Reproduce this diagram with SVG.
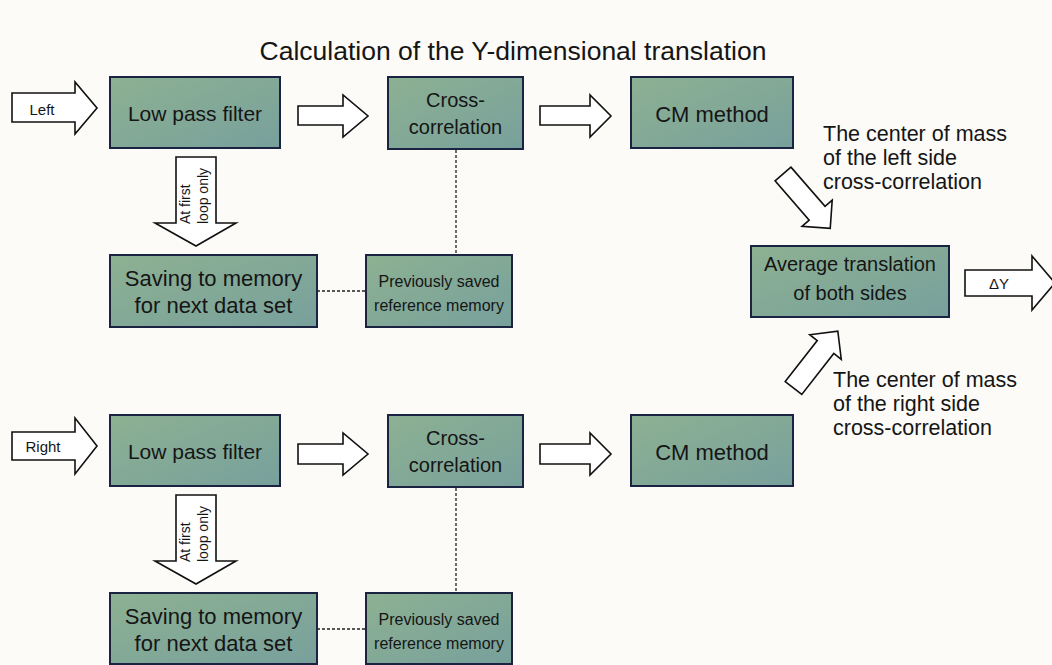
<svg xmlns="http://www.w3.org/2000/svg" width="1052" height="665" viewBox="0 0 1052 665">
<defs>
<linearGradient id="g" x1="0" y1="0" x2="1" y2="1">
<stop offset="0" stop-color="#8db192"/>
<stop offset="1" stop-color="#78a09c"/>
</linearGradient>
<style>
.box{fill:url(#g);stroke:#1b2342;stroke-width:2}
.t{font-family:"Liberation Sans",Arial,sans-serif;fill:#151515;text-anchor:middle}
.l{font-family:"Liberation Sans",Arial,sans-serif;fill:#151515;text-anchor:start}
.arr{fill:#fff;stroke:#111;stroke-width:1.6;stroke-linejoin:miter}
.dot{stroke:#222;stroke-width:1.3;stroke-dasharray:3 2;fill:none}
</style>
</defs>
<rect width="1052" height="665" fill="#fcfbf7"/>
<text class="t" x="513" y="60" font-size="26.5">Calculation of the Y-dimensional translation</text>

<g id="connectors">
<path class="arr" d="M12,93 H75 V82 L97,108 L75,134 V122 H12 Z"/>
<path class="arr" d="M298,106 H343 V95 L368,116 L343,137 V125 H298 Z"/>
<path class="arr" d="M540,106 H590 V95 L611,116 L590,137 V125 H540 Z"/>
<path class="arr" d="M176,157 H216 V223 H236 L196,246 L155,223 H176 Z"/>
<path class="arr" d="M12,432 H75 V418 L97,446 L75,474 V460 H12 Z"/>
<path class="arr" d="M298,444 H343 V433 L368,454 L343,475 V464 H298 Z"/>
<path class="arr" d="M540,444 H590 V433 L611,454 L590,475 V464 H540 Z"/>
<path class="arr" d="M176,495 H216 V561 H236 L196,584 L155,561 H176 Z"/>
<path class="arr" transform="translate(783,174) rotate(49)" d="M0,-10.5 H52 V-20 L72,0 L52,20 V10.5 H0 Z"/>
<path class="arr" transform="translate(793.5,388) rotate(-52)" d="M0,-10.5 H52 V-20 L72,0 L52,20 V10.5 H0 Z"/>
<path class="arr" d="M965,270 H1032 V256 L1055,283 L1032,310 V296 H965 Z"/>
<path class="dot" d="M456,150 V255 M317,291 H366"/>
<path class="dot" d="M456,488 V593 M317,629 H366"/>
<text class="t" x="42" y="115" font-size="15">Left</text>
<text class="t" x="43" y="452" font-size="15">Right</text>
<text class="t" x="999" y="289" font-size="15">ΔY</text>
<g transform="translate(195,224) rotate(-90)"><text class="l" x="0" y="-5" font-size="14">At first</text><text class="l" x="0" y="13" font-size="14">loop only</text></g>
<g transform="translate(195,562) rotate(-90)"><text class="l" x="0" y="-5" font-size="14">At first</text><text class="l" x="0" y="13" font-size="14">loop only</text></g>
<g id="label-left-cm"><text class="l" x="823" y="141" font-size="21.5">The center of mass</text><text class="l" x="823" y="165" font-size="21.5">of the left side</text><text class="l" x="823" y="189" font-size="21.5">cross-correlation</text></g>
<g id="label-right-cm"><text class="l" x="833" y="387" font-size="21.5">The center of mass</text><text class="l" x="833" y="411" font-size="21.5">of the right side</text><text class="l" x="833" y="435" font-size="21.5">cross-correlation</text></g>
</g>

<g id="lpf-left"><rect class="box" x="110" y="77" width="170" height="71"/><text class="t" x="195" y="121" font-size="21">Low pass filter</text></g>
<g id="cc-left"><rect class="box" x="388" y="77" width="135" height="72"/><text class="t" x="455.5" y="107" font-size="20">Cross-</text><text class="t" x="455.5" y="134" font-size="20">correlation</text></g>
<g id="cm-left"><rect class="box" x="631" y="77" width="162" height="71"/><text class="t" x="712" y="122" font-size="22">CM method</text></g>
<g id="save-left"><rect class="box" x="110" y="255" width="207" height="72"/><text class="t" x="213.5" y="286" font-size="22">Saving to memory</text><text class="t" x="213.5" y="313" font-size="22">for next data set</text></g>
<g id="prev-left"><rect class="box" x="366" y="255" width="146" height="72"/><text class="t" x="439" y="287" font-size="16">Previously saved</text><text class="t" x="439" y="311" font-size="16">reference memory</text></g>

<g id="lpf-right"><rect class="box" x="110" y="415" width="170" height="71"/><text class="t" x="195" y="459" font-size="21">Low pass filter</text></g>
<g id="cc-right"><rect class="box" x="388" y="415" width="135" height="72"/><text class="t" x="455.5" y="445" font-size="20">Cross-</text><text class="t" x="455.5" y="472" font-size="20">correlation</text></g>
<g id="cm-right"><rect class="box" x="631" y="415" width="162" height="71"/><text class="t" x="712" y="460" font-size="22">CM method</text></g>
<g id="save-right"><rect class="box" x="110" y="593" width="207" height="71"/><text class="t" x="213.5" y="624" font-size="22">Saving to memory</text><text class="t" x="213.5" y="651" font-size="22">for next data set</text></g>
<g id="prev-right"><rect class="box" x="366" y="593" width="146" height="71"/><text class="t" x="439" y="625" font-size="16">Previously saved</text><text class="t" x="439" y="649" font-size="16">reference memory</text></g>

<g id="average"><rect class="box" x="751" y="246" width="198" height="71"/><text class="t" x="850" y="271" font-size="20">Average translation</text><text class="t" x="850" y="300" font-size="20">of both sides</text></g>
</svg>
